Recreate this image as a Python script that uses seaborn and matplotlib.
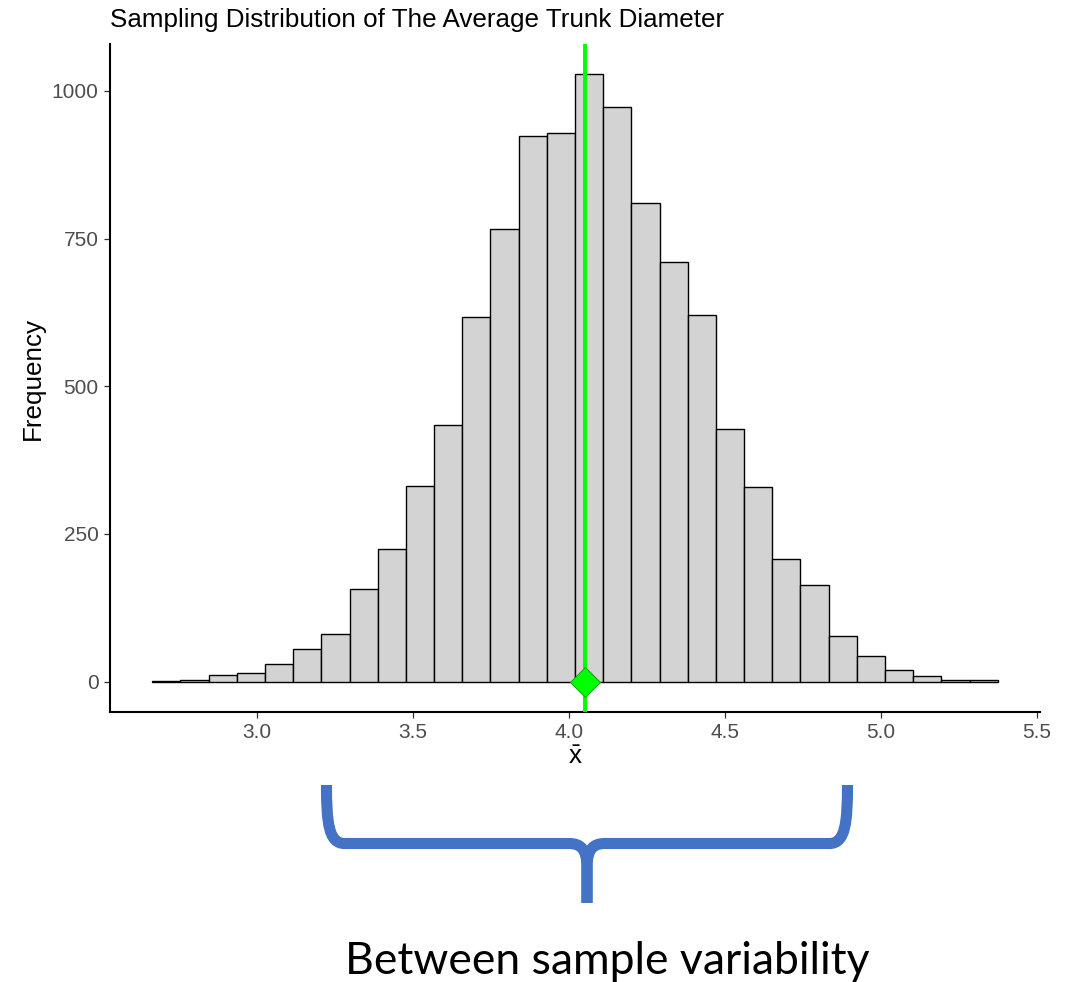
import numpy as np
import pandas as pd
import matplotlib
matplotlib.use("Agg")
import matplotlib.pyplot as plt
from matplotlib.path import Path
from matplotlib.patches import PathPatch
import seaborn as sns

# ---- data ----
counts = [1, 3, 11, 14, 30, 56, 81, 156, 225, 332, 435, 618, 766, 923, 929,
          1028, 972, 810, 711, 620, 428, 329, 207, 163, 78, 43, 20, 9, 2, 2]
bin_low = 2.664
bin_high = 5.3755
sample_mean = 4.052
x_ticks = [3.0, 3.5, 4.0, 4.5, 5.0, 5.5]
x_tick_labels = ["3.0", "3.5", "4.0", "4.5", "5.0", "5.5"]
y_ticks = [0, 250, 500, 750, 1000]
y_tick_labels = ["0", "250", "500", "750", "1000"]
title = "Sampling Distribution of The Average Trunk Diameter"
bottom_caption = "Between sample variability"

edges = np.linspace(bin_low, bin_high, len(counts) + 1)
centers = (edges[:-1] + edges[1:]) / 2
df = pd.DataFrame({"xbar": centers, "count": counts})

W, H = 1079, 982
sns.set_theme(style="ticks")
plt.rcParams["font.family"] = ["Liberation Sans", "DejaVu Sans"]
plt.rcParams["mathtext.fontset"] = "custom"
plt.rcParams["mathtext.rm"] = "Liberation Sans"

fig = plt.figure(figsize=(W / 100, H / 100), dpi=100)
ax = fig.add_axes([110 / W, 1 - 712 / H, (1040 - 110) / W, (712 - 44) / H])

sns.histplot(data=df, x="xbar", weights="count", bins=list(edges),
             color="#D3D3D3", edgecolor="black", linewidth=1.0, alpha=1,
             ax=ax)

ax.axvline(sample_mean, color="#00FF00", lw=2.8, zorder=3)
ax.plot([sample_mean], [0], marker="D", markersize=15, color="#00FF00",
        markeredgecolor="#00AA00", markeredgewidth=0.7, zorder=4, clip_on=False)

span = bin_high - bin_low
ax.set_xlim(bin_low - 0.05 * span, bin_high + 0.05 * span)
ax.set_ylim(-0.05 * max(counts), 1.05 * max(counts))
ax.set_xticks(x_ticks)
ax.set_xticklabels(x_tick_labels)
ax.set_yticks(y_ticks)
ax.set_yticklabels(y_tick_labels)

for s in ["top", "right"]:
    ax.spines[s].set_visible(False)
for s in ["left", "bottom"]:
    ax.spines[s].set_color("black")
    ax.spines[s].set_linewidth(1.5)
ax.tick_params(axis="both", direction="out", length=4.3, width=0.9,
               color="#333333", labelsize=15, labelcolor="#4D4D4D")
ax.tick_params(axis="x", pad=3.5)
ax.tick_params(axis="y", pad=4)
ax.grid(False)

ax.set_xlabel(r"$\bar{\mathrm{x}}$", fontsize=18.7, color="black", labelpad=2)
ax.set_ylabel("Frequency", fontsize=18.7, color="black", labelpad=5)

fig.text(110 / W, 1 - 20 / H, title, fontsize=18.7, ha="left", va="center",
         color="black")

# ---- brace annotation (figure pixel coordinates) ----
ov = fig.add_axes([0, 0, 1, 1], zorder=5)
ov.set_xlim(0, W)
ov.set_ylim(H, 0)
ov.axis("off")
ov.patch.set_alpha(0)

cx, yl, ytop, ytip = 587, 843.5, 785, 903
lx = 326.5
verts = [
    (lx, ytop), (lx, 822), (lx + 2, yl), (lx + 18, yl),
    (cx - 18, yl), (cx - 6, yl), (cx, yl + 6), (cx, yl + 24),
    (cx, ytip),
]
codes = [Path.MOVETO, Path.CURVE4, Path.CURVE4, Path.CURVE4,
         Path.LINETO, Path.CURVE4, Path.CURVE4, Path.CURVE4, Path.LINETO]
verts_r = [(2 * cx - x, y) for x, y in verts]
for vv in (verts, verts_r):
    ov.add_patch(PathPatch(Path(vv, codes), fill=False, edgecolor="#4472C4",
                           lw=8, capstyle="butt", joinstyle="round"))

ov.text(607, 974, bottom_caption, fontsize=32, family=["Lato", "DejaVu Sans"],
        ha="center", va="baseline", color="black")

fig.savefig("out.png", dpi=100)
